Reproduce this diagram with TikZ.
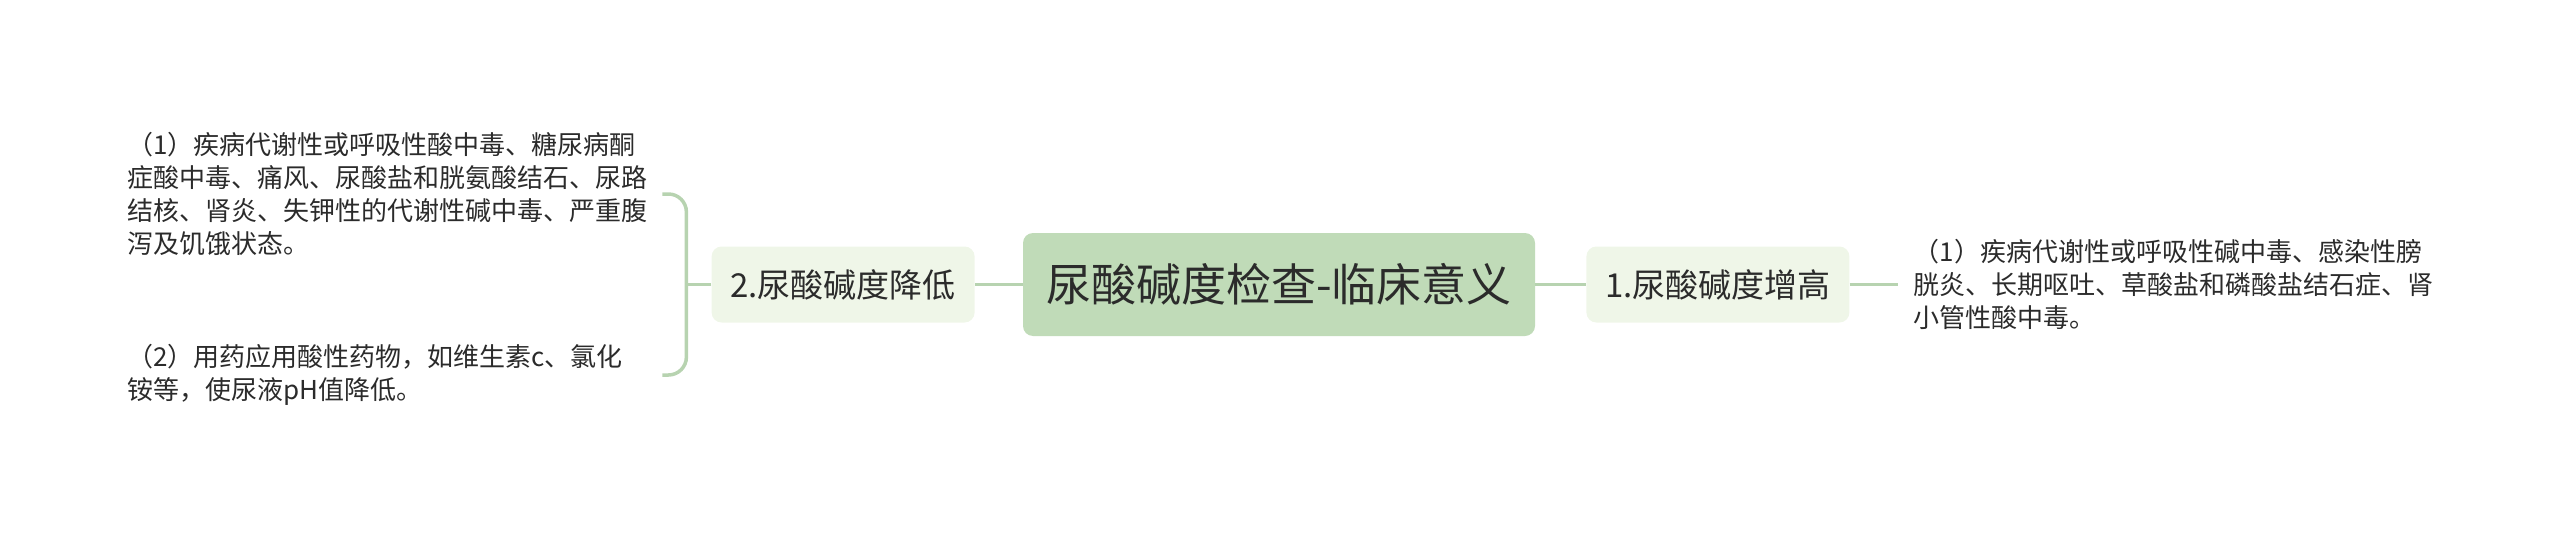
\documentclass[tikz,border=0pt]{standalone}
\usepackage{fontspec}
\setmainfont{Noto Sans CJK SC}
\usepackage{tikz}
\usetikzlibrary{positioning}

\definecolor{rootfill}{HTML}{C0DBB8}
\definecolor{subfill}{HTML}{EFF6E8}
\definecolor{linkcol}{HTML}{B7D3B0}
\definecolor{inkcol}{HTML}{2B2B2B}

\tikzset{
  rootbox/.style={fill=rootfill, rounded corners=10pt, minimum width=512pt, minimum height=103pt,
    inner sep=0pt, text=inkcol, font=\fontsize{45}{50}\selectfont},
  subbox/.style={fill=subfill, rounded corners=10pt, minimum width=263pt, minimum height=76pt,
    inner sep=0pt, text=inkcol, font=\fontsize{33}{38}\selectfont},
  desc/.style={inner sep=0pt, align=left, text=inkcol, font=\fontsize{26}{33}\selectfont},
  link/.style={draw=linkcol, line width=3.5pt}
}

\begin{document}
\begin{tikzpicture}[x=1pt,y=-1pt]
\useasboundingbox (0,0) rectangle (2560,535);
\node[rootbox] (root) at (1279,284.5) {尿酸碱度检查-临床意义};
\node[subbox, left=48pt of root] (lo) {2.尿酸碱度降低};
\node[subbox, right=51pt of root] (hi) {1.尿酸碱度增高};
\node[desc, right=64pt of hi] (hidesc) {（1）疾病代谢性或呼吸性碱中毒、感染性膀\\胱炎、长期呕吐、草酸盐和磷酸盐结石症、肾\\小管性酸中毒。};
\node[desc, anchor=west] (lodesc1) at (127,194) {（1）疾病代谢性或呼吸性酸中毒、糖尿病酮\\症酸中毒、痛风、尿酸盐和胱氨酸结石、尿路\\结核、肾炎、失钾性的代谢性碱中毒、严重腹\\泻及饥饿状态。};
\node[desc, anchor=west] (lodesc2) at (127,375) {（2）用药应用酸性药物，如维生素c、氯化\\铵等，使尿液pH值降低。};
% connectors
\coordinate (fork) at ([xshift=-25pt]lo.west);
\coordinate (stub) at ([xshift=-24pt]fork);
\draw[link] (root.west) -- (lo.east);
\draw[link] (root.east) -- (hi.west);
\draw[link] (hi.east) -- ([xshift=-16pt]hidesc.west);
\draw[link] (lo.west) -- (fork);
\draw[link, rounded corners=18pt] (stub |- lodesc1) -| (fork) |- (stub |- lodesc2);
\end{tikzpicture}
\end{document}
